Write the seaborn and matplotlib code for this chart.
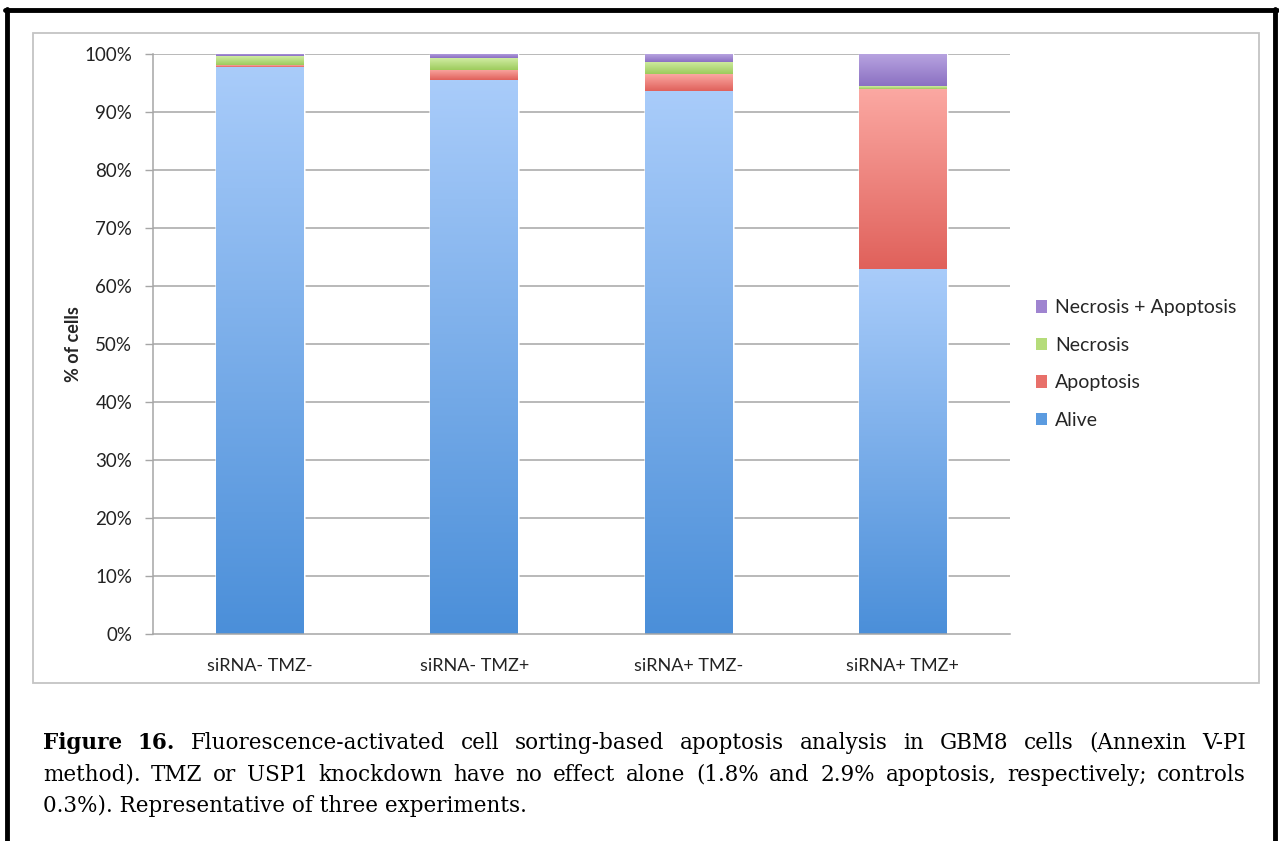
"""Stacked apoptosis/necrosis breakdown for GBM8 cells (Annexin V-PI FACS)."""

import matplotlib

matplotlib.use("Agg")
import matplotlib.pyplot as plt
import numpy as np
import pandas as pd
import seaborn as sns
from matplotlib.colors import to_rgb
from matplotlib.lines import Line2D
from matplotlib.patches import Patch, Rectangle

conditions = ["siRNA- TMZ-", "siRNA- TMZ+", "siRNA+ TMZ-", "siRNA+ TMZ+"]
alive = [97.8, 95.5, 93.7, 63.0]
apoptosis = [0.3, 1.8, 2.9, 31.0]
necrosis = [1.5, 2.0, 2.1, 0.5]
necrosis_apoptosis = [0.4, 0.7, 1.3, 5.5]

series_names = ["Alive", "Apoptosis", "Necrosis", "Necrosis + Apoptosis"]
y_ticks = list(range(0, 101, 10))
y_tick_labels = [f"{v}%" for v in y_ticks]

# gradient (top, bottom) and flat legend swatch colour per series
fills = {
    "Alive": ("#a9ccfa", "#4b8fd9", "#5b9be0"),
    "Apoptosis": ("#fba8a2", "#e0615b", "#e8706a"),
    "Necrosis": ("#d0eca2", "#9dcb5c", "#b5dc7a"),
    "Necrosis + Apoptosis": ("#b7a3e0", "#8b70c2", "#9f84d0"),
}

caption_lines = [
    "Fluorescence-activated cell sorting-based apoptosis analysis in GBM8 cells (Annexin V-PI",
    "method). TMZ or USP1 knockdown have no effect alone (1.8% and 2.9% apoptosis, respectively; controls",
    "0.3%). Representative of three experiments.",
]

sns.set_theme(style="white")
plt.rcParams["font.family"] = ["Lato", "DejaVu Sans"]

W, H = 1279, 841
GRID = "#a6a6a6"


def fx(px):
    return px / W


def fy(py):
    return 1 - py / H


def gradient_image(top, bottom, n=128):
    t = np.linspace(0, 1, n)[:, None]
    lo, hi = np.array(to_rgb(bottom)), np.array(to_rgb(top))
    return (lo + (hi - lo) * t)[:, None, :]


def justify(fig, words, x0, x1, y, **kw):
    """Place words on one line so they fill x0..x1 (pixels)."""
    renderer = fig.canvas.get_renderer()
    texts = []
    for word, extra in words:
        texts.append(fig.text(0, fy(y), word, va="center", ha="left", **kw, **extra))
    widths = [t.get_window_extent(renderer).width for t in texts]
    gap = (x1 - x0 - sum(widths)) / max(len(texts) - 1, 1)
    x = x0
    for t, w in zip(texts, widths):
        t.set_x(fx(x))
        x += w + gap


df = pd.DataFrame(
    {
        "condition": conditions,
        "Alive": alive,
        "Apoptosis": apoptosis,
        "Necrosis": necrosis,
        "Necrosis + Apoptosis": necrosis_apoptosis,
    }
)
cum = df[series_names].cumsum(axis=1)

fig = plt.figure(figsize=(W / 100, H / 100), dpi=100)
fig.patch.set_facecolor("white")
ax = fig.add_axes([fx(153), fy(634), fx(1010) - fx(153), fy(54) - fy(634)])

# stacked bars: draw the tallest cumulative layer first, then cover it
for name in reversed(series_names):
    sns.barplot(
        x=df["condition"],
        y=cum[name],
        order=conditions,
        color=fills[name][2],
        saturation=1,
        width=0.41,
        ax=ax,
        zorder=2,
    )

# gradient fill per segment, like the original spreadsheet chart
layer_patches = {}
for k, name in enumerate(reversed(series_names)):
    layer_patches[name] = ax.patches[k * len(conditions):(k + 1) * len(conditions)]
for j, name in enumerate(series_names):
    for i, patch in enumerate(layer_patches[name]):
        top = cum[name].iloc[i]
        bottom = cum[series_names[j - 1]].iloc[i] if j > 0 else 0.0
        x0 = patch.get_x()
        ax.imshow(
            gradient_image(fills[name][0], fills[name][1]),
            extent=(x0, x0 + patch.get_width(), bottom, top),
            origin="lower",
            aspect="auto",
            interpolation="bilinear",
            zorder=3,
        )

ax.set_xlim(-0.5, len(conditions) - 0.5)
ax.set_ylim(0, 100)
ax.set_yticks(y_ticks)
ax.set_yticklabels(y_tick_labels, fontsize=13.5, color="#222222")
ax.set_xticks(range(len(conditions)))
ax.set_xticklabels(conditions, fontsize=13, color="#222222")
ax.set_xticks(np.arange(-0.5, len(conditions)), minor=True)
ax.tick_params(axis="x", which="major", length=0, pad=17)
ax.tick_params(axis="x", which="minor", length=6, color=GRID, width=1, direction="out")
ax.tick_params(axis="y", length=6, color=GRID, width=1, direction="out", pad=9, left=True)
ax.set_xlabel("")
ax.set_ylabel("% of cells", fontsize=13, fontweight="bold")
ax.yaxis.set_label_coords((82 - 153) / (1010 - 153), 0.5)

for v in y_ticks[1:]:
    ax.axhline(v, color=GRID, lw=1.1, zorder=1)
for side in ["top", "right"]:
    ax.spines[side].set_visible(False)
for side in ["left", "bottom"]:
    ax.spines[side].set_color(GRID)
    ax.spines[side].set_linewidth(1.1)
    ax.spines[side].set_zorder(4)

handles = [Patch(facecolor=fills[n][2], edgecolor="none", label=n) for n in reversed(series_names)]
fig.legend(
    handles=handles,
    loc="upper left",
    bbox_to_anchor=(fx(1018), fy(282)),
    frameon=False,
    fontsize=14,
    handlelength=0.6,
    handleheight=0.6,
    handletextpad=0.4,
    labelspacing=1.05,
)

# chart frame and page border
fig.add_artist(
    Rectangle(
        (fx(33), fy(683)),
        fx(1259) - fx(33),
        fy(33) - fy(683),
        transform=fig.transFigure,
        fill=False,
        edgecolor="#c4c4c4",
        lw=1.3,
    )
)
for xs, ys in [((7, 7), (9, 841)), ((1275, 1275), (9, 841)), ((5, 1277), (9.5, 9.5))]:
    fig.add_artist(
        Line2D([fx(x) for x in xs], [fy(y) for y in ys], transform=fig.transFigure, color="black", lw=3.5)
    )

cap_kw = dict(fontsize=15.5, color="black", family=["DejaVu Serif"])
line1 = [("Figure", {"fontweight": "bold"}), ("16.", {"fontweight": "bold"})]
line1 += [(w, {}) for w in caption_lines[0].split()]
justify(fig, line1, 43, 1246, 743, **cap_kw)
justify(fig, [(w, {}) for w in caption_lines[1].split()], 43, 1246, 775, **cap_kw)
fig.text(fx(43), fy(806), caption_lines[2], va="center", ha="left", **cap_kw)

fig.savefig("out.png", dpi=100)
